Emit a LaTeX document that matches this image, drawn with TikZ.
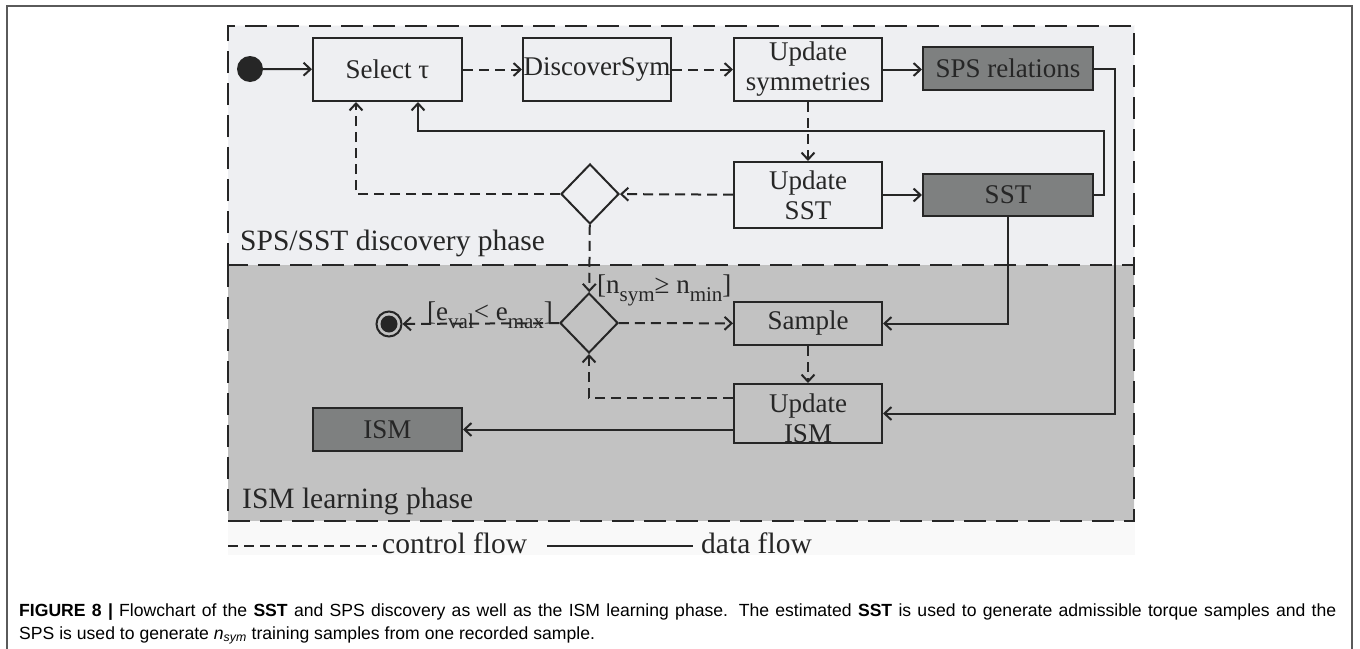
\documentclass[tikz,border=0pt]{standalone}
\usepackage{fontspec}
\setmainfont{Liberation Serif}
\newfontfamily\capfont{Liberation Sans}
\usetikzlibrary{arrows.meta,shapes.geometric,calc}

\definecolor{ink}{HTML}{262626}
\definecolor{toppanel}{HTML}{EEEFF2}
\definecolor{botpanel}{HTML}{C2C2C2}
\definecolor{store}{HTML}{7E8080}
\definecolor{legendbg}{HTML}{F9F9F9}
\definecolor{framegray}{HTML}{5A5A5A}

\newcommand{\sub}[1]{\raisebox{-0.3em}{\fontsize{21}{21}\selectfont #1}}

\begin{document}
\begin{tikzpicture}[x=1pt,y=-1pt,
  every node/.style={font=\fontsize{27}{30}\selectfont, text=ink},
  actbox/.style={draw=ink, line width=2pt, inner sep=0pt, align=center},
  storebox/.style={draw=ink, line width=2pt, fill=store, inner sep=0pt, align=center},
  decision/.style={draw=ink, line width=2pt, diamond, inner sep=0pt, aspect=1,
    minimum width=58pt, minimum height=60pt},
  ctrl/.style={draw=ink, line width=2pt, dash pattern=on 10pt off 6pt,
    -{Straight Barb[length=7pt,width=13pt]}},
  data/.style={draw=ink, line width=2pt, -{Straight Barb[length=7pt,width=13pt]}},
  panel/.style={draw=ink, line width=2.5pt, dash pattern=on 22pt off 10pt},
  phase/.style={font=\fontsize{29.5}{32}\selectfont, anchor=base west, inner sep=0pt},
  caption/.style={font=\capfont\fontsize{17.6}{22}\selectfont, text=black, anchor=base west, inner sep=0pt}
]
\useasboundingbox (0,0) rectangle (1360,648);
\fill[white] (0,0) rectangle (1360,648);
\draw[framegray, line width=1.5pt] (7,650) -- (7,6) -- (1352,6) -- (1352,650);

% backgrounds of the two phases and the legend strip
\fill[legendbg] (228,25) rectangle (1135,555);
\fill[toppanel] (228,26) rectangle (1134,265);
\fill[botpanel] (228,265) rectangle (1134,521);
\draw[panel] (228,265) -- (228,26) -- (1134,26) -- (1134,265);
\draw[panel] (228,265) rectangle (1134,521);

% start and end
\node[circle, fill=ink, minimum size=26pt, inner sep=0pt] (start) at (250,69) {};
\node[circle, draw=ink, line width=2pt, minimum size=25pt, inner sep=0pt] (stop) at (389,324) {};
\fill[ink] (stop) circle (8.5pt);

% activities
\node[actbox, minimum width=149pt, minimum height=63pt] (select) at (387.5,69.5) {Select τ};
\node[actbox, minimum width=148pt, minimum height=63pt] (discover) at (597,69.5) {DiscoverSym};
\node[actbox, minimum width=148pt, minimum height=63pt] (updsym) at (808,69.5) {Update\\symmetries};
\node[storebox, minimum width=170pt, minimum height=43pt] (sps) at (1008,68.5) {SPS relations};
\node[actbox, minimum width=148pt, minimum height=66pt] (updsst) at (808,195) {Update\\SST};
\node[storebox, minimum width=170pt, minimum height=42pt] (sst) at (1008,195) {SST};
\node[decision] (d1) at (590,194) {};
\node[decision] (d2) at (589,323) {};
\node[actbox, minimum width=148pt, minimum height=43pt] (sample) at (808,323.5) {Sample};
\node[actbox, minimum width=148pt, minimum height=59pt,
  label={[align=center, yshift=-5pt, inner sep=0pt, font=\fontsize{27}{30}\selectfont, text=ink]center:Update\\ISM}] (uism) at (808,413.5) {};
\node[storebox, minimum width=149pt, minimum height=43pt] (ism) at (387.5,429.5) {ISM};

% control flow
\draw[data] (start) -- (select);
\draw[ctrl] (select) -- (discover);
\draw[ctrl] (discover) -- (updsym);
\draw[ctrl] (updsym) -- (updsst);
\draw[ctrl] (updsst) -- (d1);
\draw[ctrl] (d1.west) -| ([xshift=-31.5pt]select.south);
\draw[ctrl] (d1) -- (d2);
\draw[ctrl] (d2) -- (stop);
\draw[ctrl] (d2) -- (sample);
\draw[ctrl] (sample) -- (uism);
\draw[ctrl] ([yshift=15.5pt]uism.west) -| (d2.south);

% data flow
\draw[data] (updsym.east) -- (updsym.east -| sps.west);
\draw[data] (updsst) -- (updsst -| sst.west);
\coordinate (fb) at (418,131);
\draw[data] (sst.east) -- ++(10,0) |- (fb) -- (fb |- select.south);
\draw[data] (sps.east) -- ++(21,0) |- (uism.east);
\draw[data] (sst.south) |- (sample.east);
\draw[data] (ism.east -| uism.west) -- (ism.east);

% guards
\node[anchor=base west, inner sep=0pt] (g1) at (597,293) {[n\sub{sym}≥ n\sub{min}]};
\node[anchor=base west, inner sep=0pt] (g2) at (427,320) {[e\sub{val}< e\sub{max}]};

% phase names
\node[phase] (p1) at (240,250) {SPS/SST discovery phase};
\node[phase] (p2) at (242,508) {ISM learning phase};

% legend
\coordinate (l1) at (228,546);
\coordinate (l2) at (377,546);
\draw[ink, line width=2pt, dash pattern=on 10pt off 6pt] (l1) -- (l2);
\node[phase] (lc) at (382,553) {control flow};
\coordinate (l3) at (547,546);
\coordinate (l4) at (693,546);
\draw[ink, line width=2pt] (l3) -- (l4);
\node[phase] (ld) at (701,553) {data flow};

% caption, first line set justified to the full width
\node[caption] (cap1) at (19,616) {\makebox[1317pt][s]{\textbf{FIGURE 8 |} Flowchart of the \textbf{SST} and SPS discovery as well as the ISM learning phase. The estimated \textbf{SST} is used to generate admissible torque samples and the}};
\node[caption] (cap2) at (19,639) {SPS is used to generate \textit{n}\textsubscript{\textit{sym}} training samples from one recorded sample.};
\end{tikzpicture}
\end{document}
